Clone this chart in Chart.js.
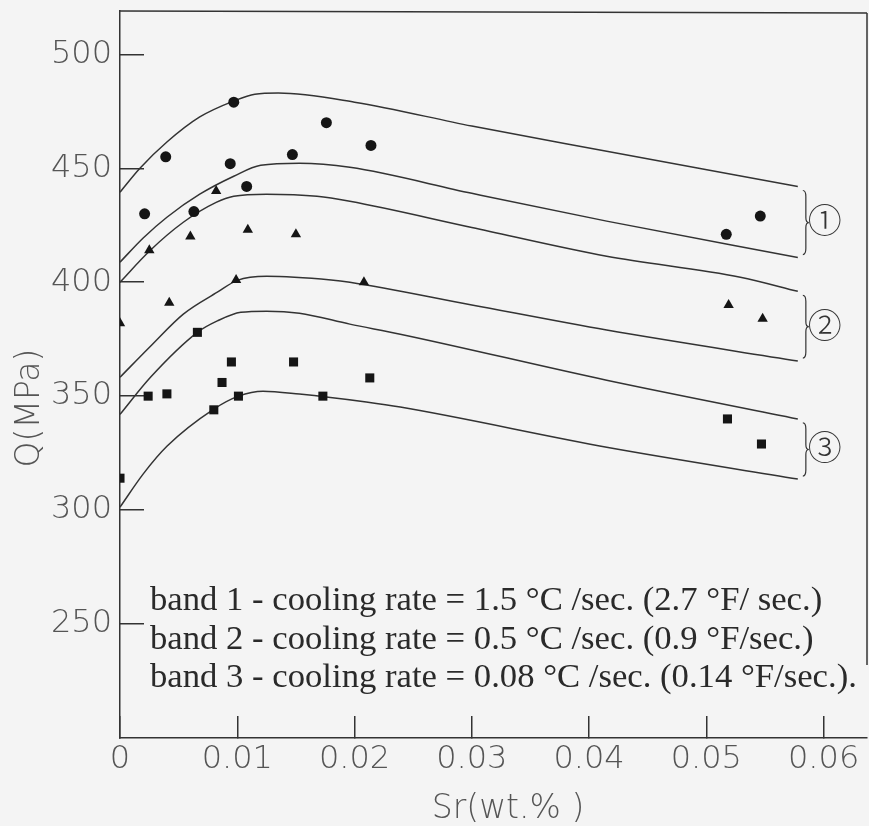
<!DOCTYPE html>
<html>
<head>
<meta charset="utf-8">
<script src="https://cdn.jsdelivr.net/npm/chart.js@4"></script>
<style>
  html, body { margin: 0; padding: 0; background: #f4f4f4; }
  canvas { display: block; }
</style>
</head>
<body>
<canvas id="c" width="869" height="826"></canvas>
<script>
// ---- axis ticks ----
const xTicks = [0, 0.01, 0.02, 0.03, 0.04, 0.05, 0.06];
const xTickLabels = ['0', '0.01', '0.02', '0.03', '0.04', '0.05', '0.06'];
const yTicks = [250, 300, 350, 400, 450, 500];
const yTickLabels = ['250', '300', '350', '400', '450', '500'];

// ---- measured points ----
// band 1 (circles)
const srBand1 = [0.0021, 0.0039, 0.0063, 0.0094, 0.0097, 0.0108, 0.0147, 0.0176, 0.0214, 0.0517, 0.0546];
const qBand1  = [430, 455, 431, 452, 479, 442, 456, 470, 460, 421, 429];
// band 2 (triangles)
const srBand2 = [0, 0.0025, 0.0042, 0.0060, 0.0082, 0.0099, 0.0109, 0.0150, 0.0208, 0.0519, 0.0548];
const qBand2  = [382, 414, 391, 420, 440, 401, 423, 421, 400, 390, 384];
// band 3 (squares)
const srBand3 = [0, 0.0024, 0.0040, 0.0066, 0.0080, 0.0087, 0.0095, 0.0101, 0.0148, 0.0173, 0.0213, 0.0518, 0.0547];
const qBand3  = [314, 350, 351, 378, 344, 356, 365, 350, 365, 350, 358, 340, 329];

// ---- band boundary curves ----
const b1UpperX = [0, 0.0017, 0.0040, 0.0068, 0.0097, 0.0115, 0.0135, 0.0200, 0.0300, 0.0415, 0.0578];
const b1UpperY = [439.5, 450, 461.5, 472.5, 479.5, 482.5, 483, 479, 468.5, 457.5, 442];
const b1LowerX = [0, 0.0020, 0.0040, 0.0068, 0.0097, 0.0120, 0.0153, 0.0196, 0.0300, 0.0415, 0.0578];
const b1LowerY = [408.8, 419.5, 428.5, 438.6, 446.5, 451.3, 452.2, 450.4, 439, 426.8, 410.8];
const b2UpperX = [0, 0.0025, 0.0054, 0.0082, 0.0097, 0.0125, 0.0168, 0.0196, 0.0300, 0.0415, 0.0529, 0.0578];
const b2UpperY = [400, 413.6, 426.3, 435, 437.7, 438.6, 437.7, 435.5, 424, 411.4, 402.2, 396];
const b2LowerX = [0, 0.0026, 0.0054, 0.0083, 0.0100, 0.0125, 0.0180, 0.0196, 0.0300, 0.0415, 0.0578];
const b2LowerY = [358.3, 371.9, 386, 395.6, 400.8, 402.6, 401, 400, 390, 379, 365.4];
const b3UpperX = [0, 0.0026, 0.0066, 0.0083, 0.0103, 0.0125, 0.0153, 0.0196, 0.0239, 0.0415, 0.0578];
const b3UpperY = [342, 358.3, 378, 383, 386.8, 387.3, 386.4, 381.6, 377.2, 357, 340];
const b3LowerX = [0, 0.0020, 0.0040, 0.0080, 0.0101, 0.0122, 0.0153, 0.0210, 0.0239, 0.0415, 0.0578];
const b3LowerY = [301.3, 316, 328, 344.3, 350, 352.2, 350.9, 347.4, 345.2, 327.6, 313.6];

// ---- texts ----
const xTitle = 'Sr(wt.% )';
const yTitle = 'Q(MPa)';
const bandNotes = [
  'band 1 - cooling rate = 1.5 \u00B0C /sec. (2.7 \u00B0F/ sec.)',
  'band 2 - cooling rate = 0.5 \u00B0C /sec. (0.9 \u00B0F/sec.)',
  'band 3 - cooling rate = 0.08 \u00B0C /sec. (0.14 \u00B0F/sec.).'
];
const bandMarks = ['\u2460', '\u2461', '\u2462'];

const zip = (xs, ys) => xs.map((x, i) => ({ x: x, y: ys[i] }));
const INK = '#333333';
const FAMILY = "'DejaVu Sans', sans-serif";

function curve(xs, ys) {
  return {
    data: zip(xs, ys), showLine: true, pointRadius: 0, borderColor: INK,
    borderWidth: 1.5, cubicInterpolationMode: 'monotone', fill: false, order: 2
  };
}
function markers(xs, ys, style, r) {
  return {
    data: zip(xs, ys), showLine: false, pointStyle: style, pointRadius: r,
    pointBackgroundColor: '#151515', pointBorderColor: '#151515', pointBorderWidth: 0, order: 1
  };
}
function zeroPad(s) { s.paddingTop = 0; s.paddingBottom = 0; s.paddingLeft = 0; s.paddingRight = 0; }

const bandPairs = [[b1UpperY, b1LowerY], [b2UpperY, b2LowerY], [b3UpperY, b3LowerY]];

const decor = {
  id: 'decor',
  beforeDraw(chart) {
    const ctx = chart.ctx;
    ctx.save();
    ctx.fillStyle = '#f4f4f4';
    ctx.fillRect(0, 0, chart.width, chart.height);
    ctx.restore();
  },
  afterDraw(chart) {
    const ctx = chart.ctx, a = chart.chartArea;
    const xs = chart.scales.x, ys = chart.scales.y;
    ctx.save();
    // frame: top and right
    ctx.strokeStyle = INK; ctx.lineWidth = 1.5;
    ctx.beginPath();
    ctx.moveTo(a.left, a.top); ctx.lineTo(a.right, a.top + 2);
    ctx.moveTo(a.right, a.top + 2); ctx.lineTo(a.right, ys.getPixelForValue(232));
    ctx.stroke();

    // braces and circled numbers
    const bx = xs.getPixelForValue(0.0584);
    ctx.lineWidth = 1.2;
    bandPairs.forEach((p, i) => {
      const top = ys.getPixelForValue(p[0][p[0].length - 1]) + 4;
      const bot = ys.getPixelForValue(p[1][p[1].length - 1]) - 3;
      const mid = (top + bot) / 2;
      ctx.beginPath();
      ctx.moveTo(bx - 2, top);
      ctx.quadraticCurveTo(bx + 1, top, bx + 1, top + 6);
      ctx.lineTo(bx + 1, mid - 5);
      ctx.quadraticCurveTo(bx + 1, mid, bx + 4, mid);
      ctx.quadraticCurveTo(bx + 1, mid, bx + 1, mid + 5);
      ctx.lineTo(bx + 1, bot - 6);
      ctx.quadraticCurveTo(bx + 1, bot, bx - 2, bot);
      ctx.stroke();
      ctx.fillStyle = '#333';
      ctx.font = "300 34px 'DejaVu Sans', 'Noto Sans CJK SC', sans-serif";
      ctx.textAlign = 'center'; ctx.textBaseline = 'middle';
      ctx.fillText(bandMarks[i], xs.getPixelForValue(0.0601), mid + 2);
    });

    // notes
    ctx.fillStyle = '#2a2a2a';
    ctx.textAlign = 'left'; ctx.textBaseline = 'alphabetic';
    let size = 30;
    ctx.font = size + "px 'Liberation Serif', serif";
    const w = ctx.measureText(bandNotes[2]).width;
    size = size * 707 / w;
    ctx.font = size.toFixed(2) + "px 'Liberation Serif', serif";
    const nx = xs.getPixelForValue(0.00256);
    const baseY = [610, 648.5, 687];
    bandNotes.forEach((t, i) => ctx.fillText(t, nx, baseY[i]));

    // axis titles
    ctx.fillStyle = '#555';
    ctx.font = "200 33px 'DejaVu Sans', sans-serif";
    ctx.textAlign = 'center'; ctx.textBaseline = 'middle';
    ctx.fillText(xTitle, 508, 809);
    ctx.translate(30, 408);
    ctx.rotate(-Math.PI / 2);
    ctx.fillText(yTitle, 0, 0);
    ctx.restore();
  }
};

new Chart(document.getElementById('c'), {
  type: 'scatter',
  data: {
    datasets: [
      curve(b1UpperX, b1UpperY), curve(b1LowerX, b1LowerY),
      curve(b2UpperX, b2UpperY), curve(b2LowerX, b2LowerY),
      curve(b3UpperX, b3UpperY), curve(b3LowerX, b3LowerY),
      markers(srBand1, qBand1, 'circle', 5.5),
      markers(srBand2, qBand2, 'triangle', 6),
      markers(srBand3, qBand3, 'rect', 6.4)
    ]
  },
  options: {
    responsive: false,
    animation: false,
    devicePixelRatio: 1,
    layout: { autoPadding: false, padding: { top: 11, right: 2, left: 0, bottom: 0 } },
    plugins: { legend: { display: false }, tooltip: { enabled: false }, title: { display: false } },
    scales: {
      x: {
        type: 'linear', position: 'bottom', min: 0, max: 0.0637,
        afterBuildTicks: s => { s.ticks = xTicks.map(v => ({ value: v })); },
        afterFit: s => { s.height = 88; zeroPad(s); },
        grid: { drawOnChartArea: false, drawTicks: true, tickLength: -22, color: INK, lineWidth: 1.5 },
        border: { display: true, color: INK, width: 1.5 },
        ticks: {
          autoSkip: false, maxRotation: 0, padding: 0, color: '#555',
          font: { family: FAMILY, size: 32, weight: 200, lineHeight: 2.75 },
          callback: (v, i) => xTickLabels[i]
        }
      },
      y: {
        type: 'linear', position: 'left', min: 200, max: 519,
        afterBuildTicks: s => { s.ticks = yTicks.map(v => ({ value: v })); },
        afterFit: s => { s.width = 120; zeroPad(s); },
        grid: { drawOnChartArea: false, drawTicks: true, tickLength: -24, color: INK, lineWidth: 1.5 },
        border: { display: true, color: INK, width: 1.5 },
        ticks: {
          autoSkip: false, padding: 32, color: '#555',
          font: { family: FAMILY, size: 32, weight: 200 },
          callback: (v, i) => yTickLabels[i]
        }
      }
    }
  },
  plugins: [decor]
});
</script>
</body>
</html>
